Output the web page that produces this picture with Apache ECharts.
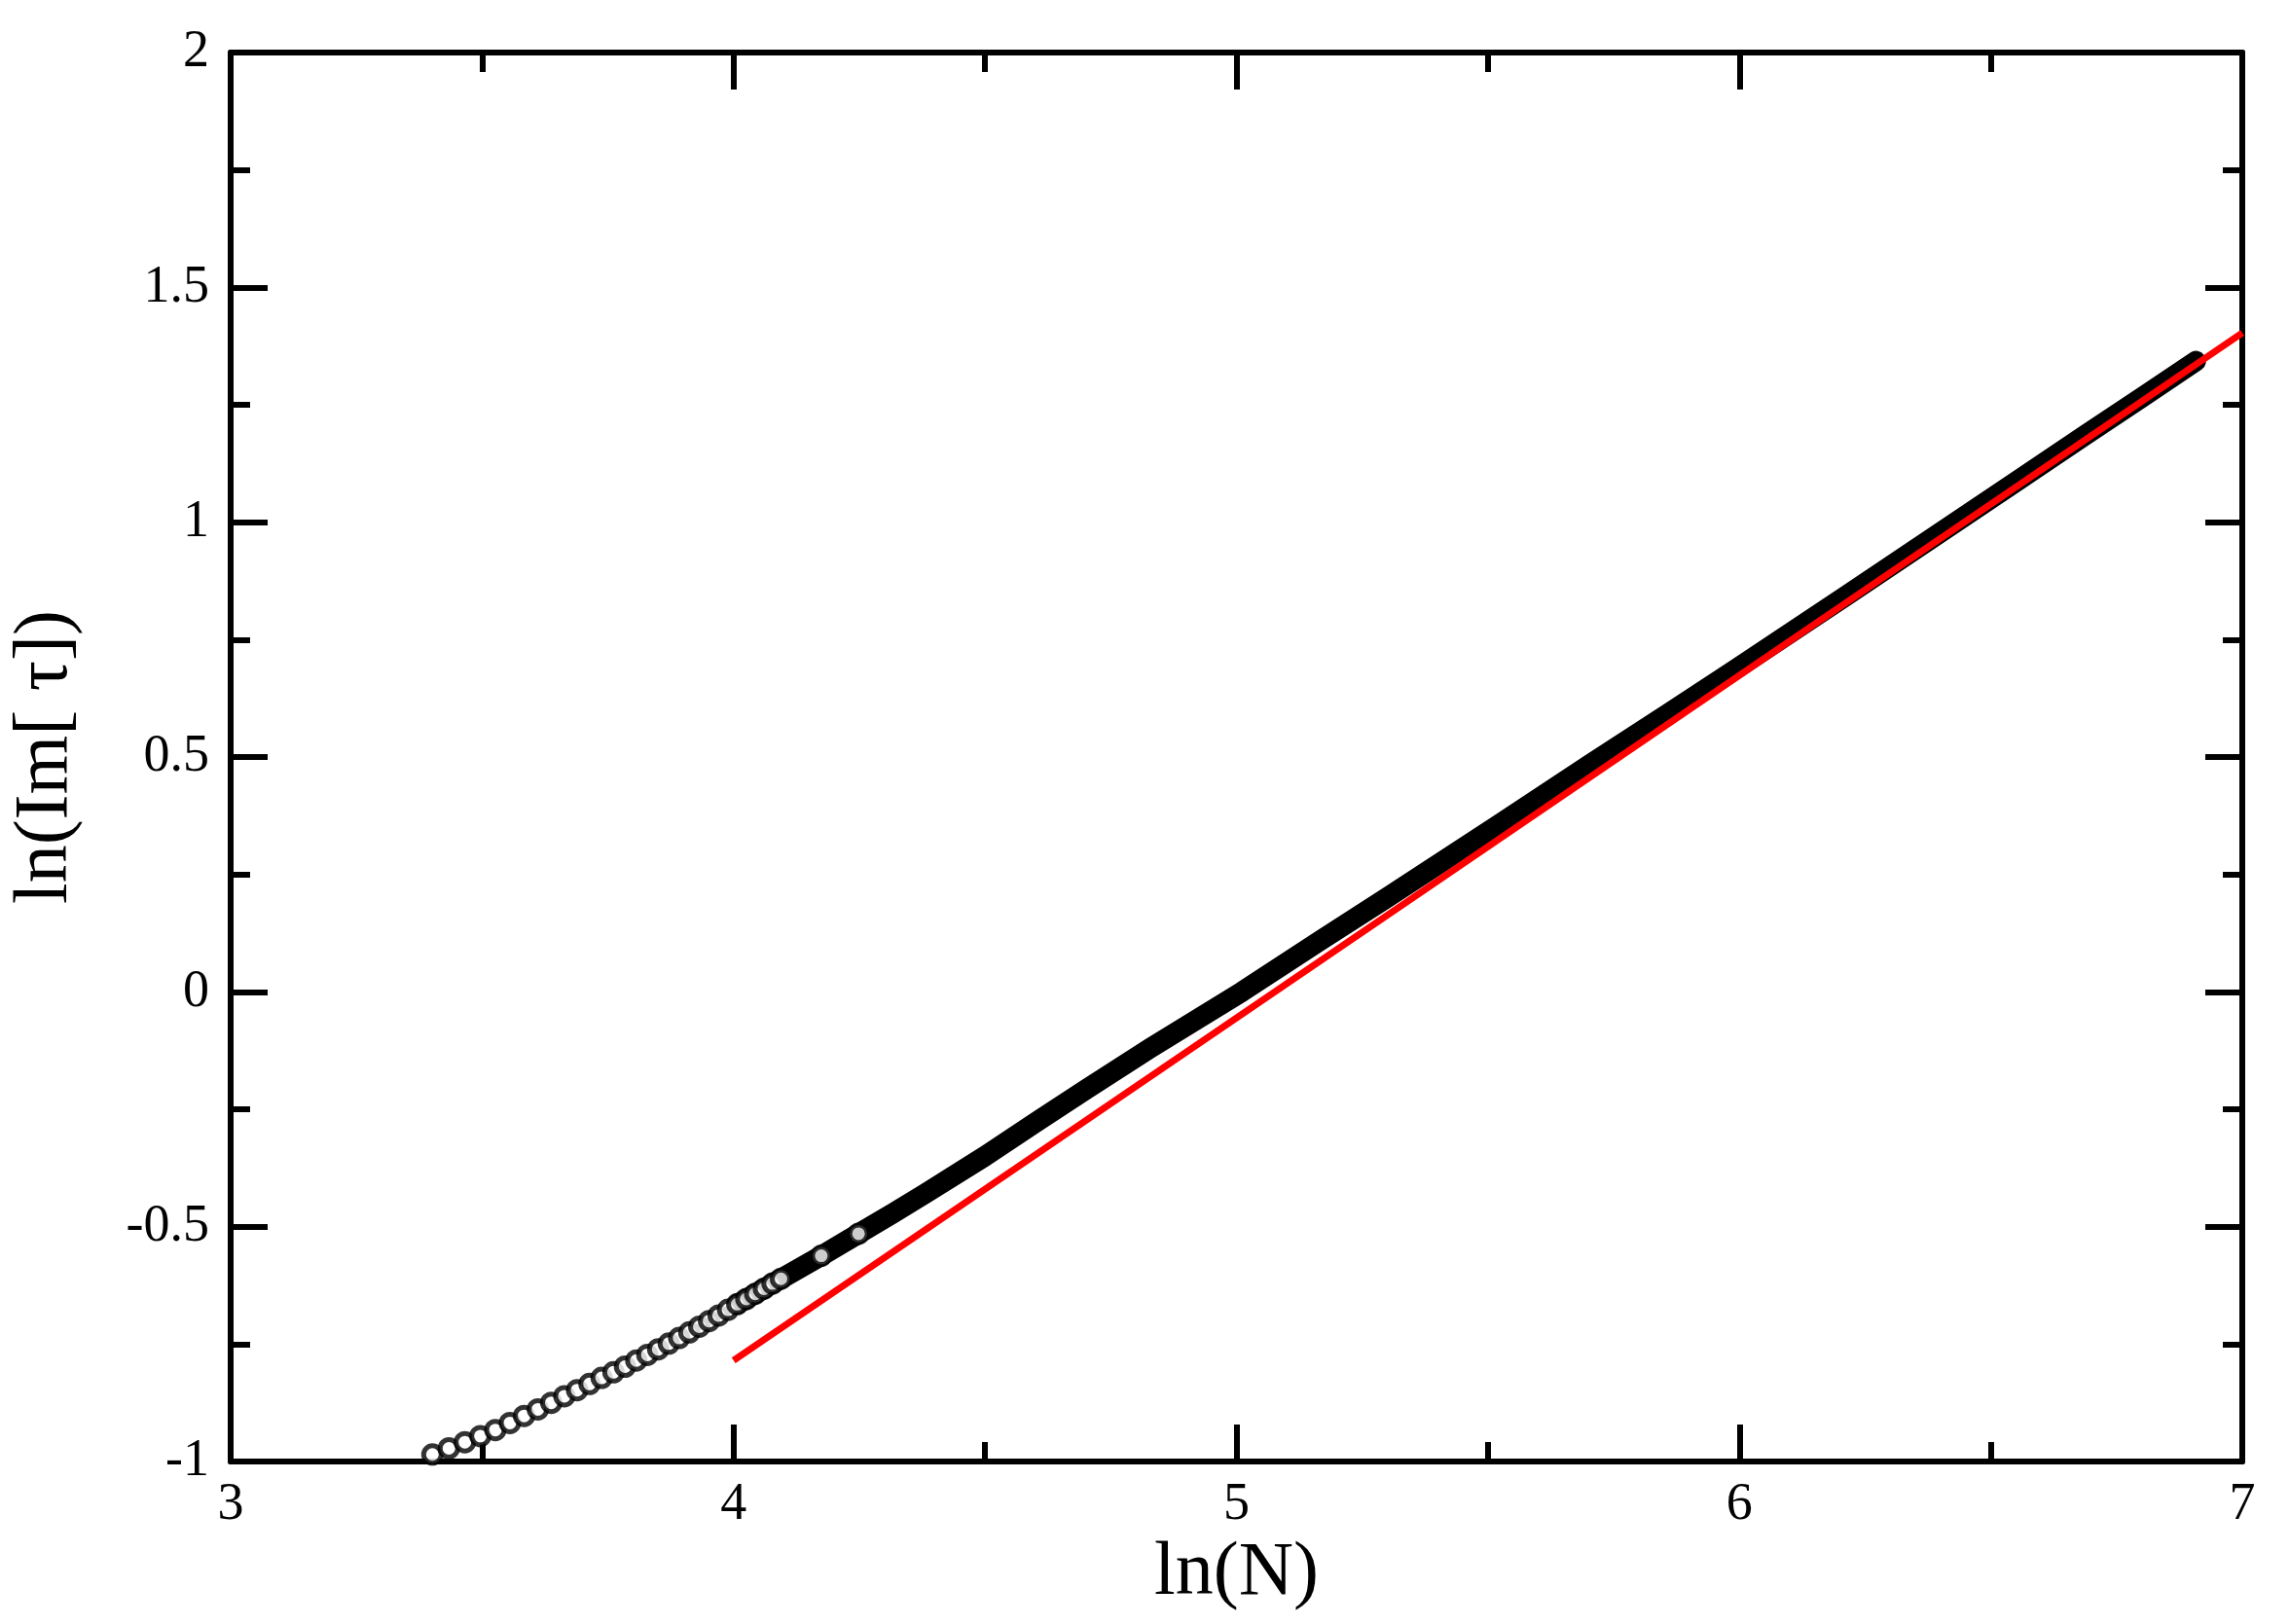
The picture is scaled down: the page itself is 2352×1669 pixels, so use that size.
<!DOCTYPE html>
<html><head><meta charset="utf-8">
<script src="https://cdn.jsdelivr.net/npm/echarts@6/dist/echarts.min.js"></script>
<style>html,body{margin:0;padding:0;background:#fff}#c{width:2352px;height:1669px}</style>
</head><body><div id="c"></div>
<script>
// N values and ln(Im[tau])
var N = [30,31,32,33,34,35,36,37,38,39,40,41,42,43,44,45,46,47,48,49,50,51,52,53,54,55,56,57,58,59,60,
         65,70,75,80,90,100,110,125,150,175,200,250,300,350,400,500,600,700,800,900,1000];
var lnIm = [-0.985,-0.972,-0.959,-0.946,-0.933,-0.918,-0.903,-0.889,-0.875,-0.861,-0.848,-0.835,-0.822,-0.810,-0.798,-0.785,-0.773,-0.761,-0.749,-0.737,-0.725,-0.713,-0.701,-0.689,-0.677,-0.665,-0.654,-0.643,-0.632,-0.621,-0.611,
         -0.562,-0.515,-0.471,-0.429,-0.350,-0.275,-0.208,-0.120,0.000,0.108,0.200,0.356,0.485,0.592,0.686,0.845,0.976,1.087,1.183,1.267,1.343];
// fitted line endpoints
var fitX = [4, 7];
var fitY = [-0.785, 1.403];

var pts = N.map(function(n,i){return [Math.log(n), lnIm[i]];});
var circlePts = pts.filter(function(p,i){return N[i] <= 70;});
var bandPts = pts.filter(function(p,i){return N[i] >= 55;});
var fitPts = fitX.map(function(x,i){return [x, fitY[i]];});

var font = 'Liberation Serif';
var axBase = {
  axisLine:{show:true,onZero:false,lineStyle:{color:'#000',width:6}},
  axisTick:{show:true,inside:true,length:38,lineStyle:{color:'#000',width:6}},
  minorTick:{show:true,splitNumber:2,length:20,lineStyle:{color:'#000',width:6}},
  splitLine:{show:false}
};
function ax(o){return Object.assign({}, JSON.parse(JSON.stringify(axBase)), o);}
var chart = echarts.init(document.getElementById('c'));
chart.setOption({
  animation:false,
  backgroundColor:'#fff',
  grid:{left:237,right:48,top:54,bottom:167},
  xAxis:[
    ax({type:'value',min:3,max:7,interval:1,position:'bottom',
      name:'ln(N)',nameLocation:'middle',nameGap:62,
      nameTextStyle:{fontFamily:font,fontSize:78,color:'#000'},
      axisLabel:{fontFamily:font,fontSize:54,color:'#000',margin:18}}),
    ax({type:'value',min:3,max:7,interval:1,position:'top',axisLabel:{show:false}})
  ],
  yAxis:[
    ax({type:'value',min:-1,max:2,interval:0.5,position:'left',
      name:'ln(Im[ τ])',nameLocation:'middle',nameGap:150,
      nameTextStyle:{fontFamily:font,fontSize:78,color:'#000'},
      axisLabel:{fontFamily:font,fontSize:54,color:'#000',margin:22}}),
    ax({type:'value',min:-1,max:2,interval:0.5,position:'right',axisLabel:{show:false}})
  ],
  series:[
    {type:'line',data:bandPts,showSymbol:false,lineStyle:{color:'#000',width:21,cap:'round',join:'round'},z:2},
    {type:'scatter',data:circlePts,symbol:'circle',symbolSize:18,
      itemStyle:{color:'#fff',borderColor:'#000',borderWidth:5},z:3},
    {type:'line',data:fitPts,showSymbol:false,lineStyle:{color:'#ff0000',width:7},z:4}
  ]
});
</script></body></html>
